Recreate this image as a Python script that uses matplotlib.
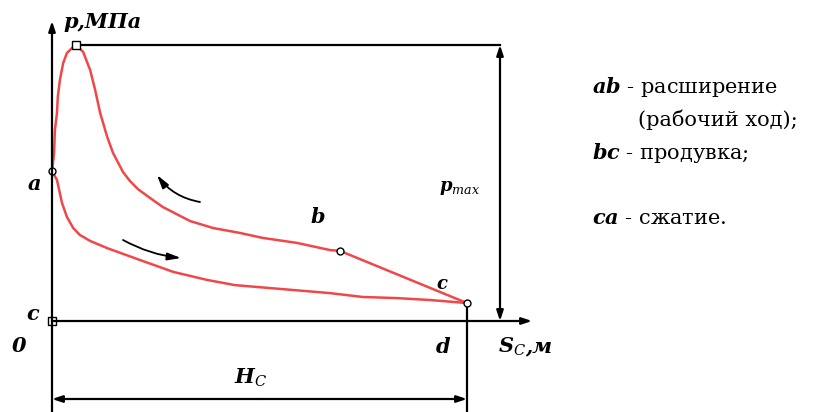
import matplotlib
matplotlib.use("Agg")
import matplotlib.pyplot as plt

SERIF = "DejaVu Serif"
plt.rcParams["mathtext.fontset"] = "custom"
plt.rcParams["mathtext.rm"] = SERIF
plt.rcParams["mathtext.it"] = SERIF + ":italic"
plt.rcParams["mathtext.bf"] = SERIF + ":bold"
plt.rcParams["mathtext.bfit"] = SERIF + ":italic:bold"

# stroke S (relative to full stroke H_C) and pressure p (relative to p_max)
# expansion a -> b
exp_s = [0.000, 0.005, 0.007, 0.012, 0.014, 0.019, 0.027, 0.036, 0.048, 0.058,
         0.075, 0.092, 0.104, 0.116, 0.133, 0.147, 0.171, 0.188, 0.207, 0.236,
         0.267, 0.333, 0.388, 0.453, 0.508, 0.590, 0.670, 0.694]
exp_p = [0.543, 0.609, 0.692, 0.754, 0.812, 0.873, 0.935, 0.971, 0.989, 1.000,
         0.975, 0.909, 0.837, 0.754, 0.667, 0.609, 0.540, 0.507, 0.478, 0.446,
         0.413, 0.362, 0.337, 0.319, 0.301, 0.283, 0.257, 0.254]

# blowdown b -> c
blow_s = [0.694, 1.000]
blow_p = [0.254, 0.065]

# compression c -> a
comp_s = [1.000, 0.911, 0.831, 0.749, 0.670, 0.441, 0.373, 0.292, 0.212, 0.133,
          0.092, 0.067, 0.051, 0.036, 0.024, 0.012, 0.000]
comp_p = [0.065, 0.076, 0.083, 0.087, 0.101, 0.130, 0.149, 0.178, 0.221, 0.264,
          0.290, 0.312, 0.337, 0.377, 0.428, 0.511, 0.543]

# characteristic points
top_s, top_p = [0.058, 0.000], [1.000, 0.000]          # p_max, origin c
node_s, node_p = [0.000, 0.694, 1.000], [0.543, 0.254, 0.065]  # a, b, c

RED = "#f04848"

fig = plt.figure(figsize=(8.18, 4.12), dpi=100)
ax = fig.add_axes([0, 0, 1, 1])
# frame: origin at (52, 321) px, S = 1 at x = 467 px, p = 1 at y = 45 px
sx, sy = 415.0, 276.0
ax.set_xlim(-52 / sx, (818 - 52) / sx)
ax.set_ylim((321 - 412) / sy, 321 / sy)
ax.axis("off")

def px(x, y):
    return ((x - 52) / sx, (321 - y) / sy)

arr = dict(arrowstyle="-|>,head_length=0.6,head_width=0.2", color="black", lw=1.6,
           shrinkA=0, shrinkB=0)

# coordinate axes
ax.annotate("", xy=px(52, 21), xytext=px(52, 412), arrowprops=arr)
ax.annotate("", xy=px(532, 321), xytext=px(52, 321), arrowprops=arr)

# p_max dimension
ax.plot([top_s[0], px(500, 0)[0]], [1.0, 1.0], color="black", lw=1.6)
ax.annotate("", xy=px(500, 45), xytext=px(500, 190), arrowprops=arr)
ax.annotate("", xy=px(500, 321), xytext=px(500, 190), arrowprops=arr)

# stroke H_C dimension
ax.plot([1.0, 1.0], [node_p[2], px(0, 412)[1]], color="black", lw=1.6)
ax.annotate("", xy=px(52, 399), xytext=px(260, 399), arrowprops=arr)
ax.annotate("", xy=px(467, 399), xytext=px(260, 399), arrowprops=arr)

# indicator diagram
ax.plot(exp_s, exp_p, color=RED, lw=1.8, solid_joinstyle="round")
ax.plot(blow_s, blow_p, color=RED, lw=1.8)
ax.plot(comp_s, comp_p, color=RED, lw=1.8, solid_joinstyle="round")

ax.plot(top_s, top_p, ls="none", marker="s", ms=5.5, mfc="white", mec="black", mew=1.0)
ax.plot(node_s, node_p, ls="none", marker="o", ms=5, mfc="white", mec="black", mew=1.0)

# direction arrows
arr2 = dict(arrowstyle="-|>,head_length=0.8,head_width=0.22", color="black", lw=1.3,
            shrinkA=0, shrinkB=0)
ax.annotate("", xy=px(157, 175), xytext=px(200, 202),
            arrowprops=dict(arr2, connectionstyle="arc3,rad=-0.2"))
ax.annotate("", xy=px(181, 258), xytext=px(123, 240),
            arrowprops=dict(arr2, connectionstyle="arc3,rad=0.1"))

lab = dict(fontfamily=SERIF, fontweight="bold", fontstyle="italic")
ax.text(*px(63, 22), "p,МПа", ha="left", va="center", fontsize=15, **lab)
ax.text(*px(34, 184), "a", ha="center", va="center", fontsize=15, **lab)
ax.text(*px(33, 314), "c", ha="center", va="center", fontsize=15, **lab)
ax.text(*px(19, 346), "0", ha="center", va="center", fontsize=15, **lab)
ax.text(*px(318, 217), "b", ha="center", va="center", fontsize=15, **lab)
ax.text(*px(442, 284), "c", ha="center", va="center", fontsize=13, **lab)
ax.text(*px(443, 347), "d", ha="center", va="center", fontsize=15, **lab)
ax.text(*px(498, 347), r"$\mathbfit{S}_{\mathit{C}}$", ha="left", va="center", fontsize=15)
ax.text(*px(525, 346), ",м", ha="left", va="center", fontsize=15, **lab)
ax.text(*px(439, 188), r"$\mathbfit{p}_{\mathit{max}}$", ha="left", va="center", fontsize=13)
ax.text(*px(251, 378), r"$\mathbfit{H}_{\mathit{C}}$", ha="center", va="center", fontsize=15)

# legend of processes
txt = dict(fontfamily=SERIF, fontsize=15, ha="left", va="baseline")
ax.text(*px(592, 93), r"$\mathbfit{ab}$ - расширение", **txt)
ax.text(*px(638, 126), "(рабочий ход);", **txt)
ax.text(*px(592, 159), r"$\mathbfit{bc}$ - продувка;", **txt)
ax.text(*px(592, 224), r"$\mathbfit{ca}$ - сжатие.", **txt)

fig.savefig("out.png", dpi=100)
